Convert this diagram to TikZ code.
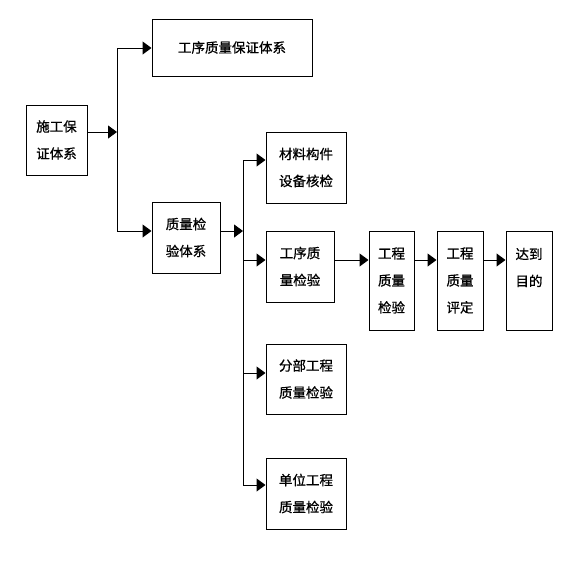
\documentclass[tikz,border=0pt]{standalone}
\usepackage{fontspec}
\newfontfamily\cjk[FakeBold=0.8]{Noto Sans CJK SC}
\usetikzlibrary{arrows.meta}

\begin{document}
\begin{tikzpicture}[
    x=1pt, y=-1pt,
    line width=1pt,
    every node/.style={font=\cjk\fontsize{13.5}{27}\selectfont, align=center, inner sep=0pt},
    box/.style={draw, rectangle, minimum width=#1},
    box/.default=80pt,
    arr/.style={-{Triangle[length=9pt, width=13pt]}},
  ]
  \useasboundingbox (0,0) rectangle (576,565);

  % left part
  \node[box=61pt, minimum height=70pt] (sgbz) at (56.5,140) {施工保\\证体系};
  \node[box=160pt, minimum height=57pt] (gxbz) at (232,47.5) {工序质量保证体系};
  \node[box=68pt, minimum height=71pt] (zljy) at (186,237.5) {质量检\\验体系};

  % checks
  \node[box, minimum height=71pt] (clhj) at (306,167.5) {材料构件\\设备核检};
  \node[box=68pt, minimum height=71pt] (gxjy) at (300,266.5) {工序质\\量检验};
  \node[box, minimum height=70pt] (fbjy) at (306,379) {分部工程\\质量检验};
  \node[box, minimum height=71pt] (dwjy) at (306,493.5) {单位工程\\质量检验};

  % chain
  \node[box=45pt, minimum height=99pt] (gcjy) at (391.5,280.5) {工程\\质量\\检验};
  \node[box=46pt, minimum height=99pt] (gcpd) at (460,280.5) {工程\\质量\\评定};
  \node[box=46pt, minimum height=99pt] (ddmd) at (529,280.5) {达到\\目的\\\mbox{}};

  % left bus
  \coordinate (la) at (117,48);
  \coordinate (lb) at (117,132);
  \coordinate (lc) at (117,231);
  \draw[arr] (sgbz.east |- lb) -- (lb);
  \draw (la) -- (lc);
  \draw[arr] (la) -- (la -| gxbz.west);
  \draw[arr] (lc) -- (lc -| zljy.west);

  % right bus
  \coordinate (ra) at (243,160);
  \coordinate (rb) at (243,231);
  \coordinate (rc) at (243,260);
  \coordinate (rd) at (243,373);
  \coordinate (re) at (243,485);
  \draw[arr] (zljy.east |- rb) -- (rb);
  \draw (ra) -- (re);
  \draw[arr] (ra) -- (ra -| clhj.west);
  \draw[arr] (rc) -- (rc -| gxjy.west);
  \draw[arr] (rd) -- (rd -| fbjy.west);
  \draw[arr] (re) -- (re -| dwjy.west);

  % chain arrows
  \draw[arr] (gxjy.east |- rc) -- (gcjy.west |- rc);
  \draw[arr] (gcjy.east |- rc) -- (gcpd.west |- rc);
  \draw[arr] (gcpd.east |- rc) -- (ddmd.west |- rc);
\end{tikzpicture}
\end{document}
